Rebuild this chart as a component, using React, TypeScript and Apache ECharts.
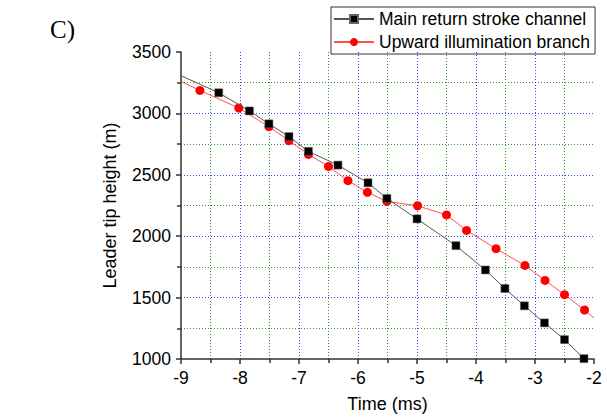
import React, { useEffect, useRef } from "react";
import * as echarts from "echarts";

const mainX = [-8.36, -7.84, -7.51, -7.17, -6.84, -6.34, -5.83, -5.51, -5.0, -4.34, -3.84, -3.51, -3.18, -2.84, -2.5, -2.17];
const mainY = [3168, 3020, 2915, 2811, 2691, 2579, 2435, 2307, 2141, 1923, 1725, 1574, 1433, 1294, 1158, 1003];
const mainLineStart = [-9, 3307];

const branchX = [-8.68, -8.02, -7.51, -7.17, -6.84, -6.5, -6.17, -5.84, -5.51, -4.99, -4.5, -4.16, -3.66, -3.17, -2.83, -2.5, -2.16];
const branchY = [3187, 3044, 2892, 2778, 2666, 2568, 2452, 2357, 2283, 2248, 2173, 2047, 1898, 1762, 1640, 1524, 1399];
const branchLineStart = [-9, 3261];
const branchLineEnd = [-2, 1334];

const seriesNames = ["Main return stroke channel", "Upward illumination branch"];
const panelLabel = "C)";
const xName = "Time (ms)";
const yName = "Leader tip height (m)";

const FONT = "'Liberation Sans', Arial, sans-serif";

export default function App() {
  const ref = useRef<HTMLDivElement>(null);
  useEffect(() => {
    if (!ref.current) return;
    const chart = echarts.init(ref.current, null, { renderer: "svg" });
    const noSym = (p: number[]) => ({ value: p, symbol: "none" });
    const mainData: any[] = [noSym(mainLineStart), ...mainX.map((x, i) => [x, mainY[i]])];
    const branchData: any[] = [
      noSym(branchLineStart),
      ...branchX.map((x, i) => [x, branchY[i]]),
      noSym(branchLineEnd),
    ];
    const axisCommon = (name: string, gap: number) => ({
      type: "value",
      name,
      nameLocation: "middle",
      nameGap: gap,
      nameTextStyle: { fontSize: 18, fontFamily: FONT, color: "#000" },
      axisLine: { show: true, onZero: false, lineStyle: { color: "#333", width: 1.5 } },
      axisTick: { show: true, length: 5, lineStyle: { color: "#333", width: 1.5 } },
      minorTick: { show: true, splitNumber: 2, length: 4, lineStyle: { color: "#333", width: 1.5 } },
      axisLabel: { fontSize: 17.5, fontFamily: FONT, color: "#000", margin: 10, formatter: (v: number) => String(v) },
      splitLine: { show: true, showMinLine: false, showMaxLine: false, lineStyle: { color: "#3c3cff", type: [1, 2], width: 1 } },
      minorSplitLine: { show: true, lineStyle: { color: "#2e9a2e", type: [1, 2], width: 1 } },
    });
    chart.setOption({
      animation: false,
      title: {
        text: panelLabel,
        left: 45,
        top: 12,
        textStyle: { fontFamily: "'Liberation Serif', 'Times New Roman', serif", fontSize: 25, fontWeight: "normal", color: "#000" },
      },
      legend: {
        orient: "vertical",
        left: 331,
        top: 7,
        itemWidth: 40,
        itemHeight: 10,
        itemGap: 5,
        padding: [3, 5, 3, 2],
        borderColor: "#333",
        borderWidth: 1,
        textStyle: { fontSize: 17.5, fontFamily: FONT, color: "#000" },
        data: seriesNames,
      },
      grid: { left: 181, right: 13, top: 52, bottom: 59 },
      xAxis: { ...axisCommon(xName, 36), min: -9, max: -2, interval: 1 },
      yAxis: { ...axisCommon(yName, 62), min: 1000, max: 3500, interval: 500 },
      series: [
        {
          name: seriesNames[0],
          type: "line",
          data: mainData,
          symbol: "rect",
          symbolSize: 8,
          showAllSymbol: true,
          clip: true,
          z: 3,
          lineStyle: { color: "#555", width: 1 },
          itemStyle: { color: "#000", borderColor: "#666", borderWidth: 0.5 },
        },
        {
          name: seriesNames[1],
          type: "line",
          data: branchData,
          symbol: "circle",
          symbolSize: 9,
          showAllSymbol: true,
          clip: true,
          z: 2,
          lineStyle: { color: "#ff5050", width: 1 },
          itemStyle: { color: "#ff0000" },
        },
      ],
    });
    return () => chart.dispose();
  }, []);
  return <div ref={ref} style={{ position: "fixed", left: 0, top: 0, width: 607, height: 418, background: "#fff" }} />;
}
